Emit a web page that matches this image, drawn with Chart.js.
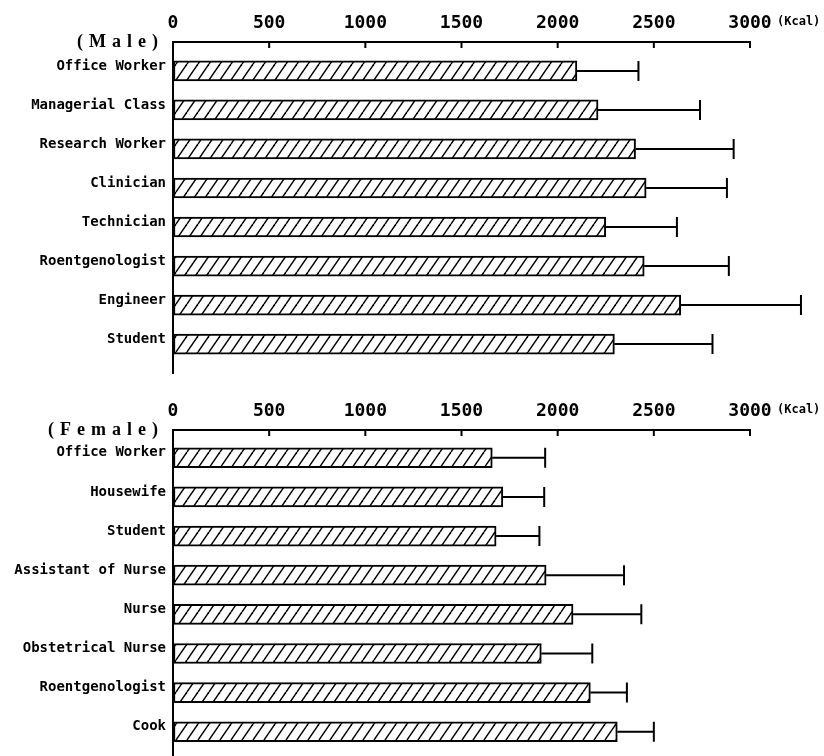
<!DOCTYPE html>
<html>
<head>
<meta charset="utf-8">
<script src="https://cdn.jsdelivr.net/npm/chart.js@4"></script>
<style>
  html, body { margin: 0; padding: 0; background: #fff; overflow: hidden; }
  .box { position: absolute; left: 0; width: 824px; }
</style>
</head>
<body>
<div class="box" style="top:0;height:380px"><canvas id="male"></canvas></div>
<div class="box" style="top:388px;height:368px"><canvas id="female"></canvas></div>
<script>
// data (Kcal)
const xTicks = [0, 500, 1000, 1500, 2000, 2500, 3000];

const maleLabels = ['Office Worker', 'Managerial Class', 'Research Worker', 'Clinician',
  'Technician', 'Roentgenologist', 'Engineer', 'Student'];
const maleMeans = [2100, 2210, 2405, 2460, 2250, 2450, 2640, 2295];
const maleUpper = [2420, 2740, 2915, 2880, 2620, 2890, 3265, 2805];

const femaleLabels = ['Office Worker', 'Housewife', 'Student', 'Assistant of Nurse',
  'Nurse', 'Obstetrical Nurse', 'Roentgenologist', 'Cook'];
const femaleMeans = [1660, 1715, 1680, 1940, 2080, 1915, 2170, 2310];
const femaleUpper = [1935, 1930, 1905, 2345, 2435, 2180, 2360, 2500];

const mono = 'DejaVu Sans Mono';

// diagonal hatch fill
function hatch() {
  const c = document.createElement('canvas');
  c.width = 11; c.height = 16;
  const g = c.getContext('2d');
  g.fillStyle = '#fff';
  g.fillRect(0, 0, 11, 16);
  g.strokeStyle = '#000';
  g.lineWidth = 1.5;
  for (const dx of [-11, 0, 11]) {
    g.beginPath();
    g.moveTo(dx, 16);
    g.lineTo(dx + 11, 0);
    g.stroke();
  }
  return g.createPattern(c, 'repeat');
}

function makeChart(id, labels, means, upper, title, yMin, yMax, padBottom) {
  const extras = {
    id: 'extras',
    afterDatasetsDraw(chart) {
      const ctx = chart.ctx;
      const xs = chart.scales.x;
      const area = chart.chartArea;
      const meta = chart.getDatasetMeta(0);
      ctx.save();
      ctx.strokeStyle = '#000';
      ctx.lineWidth = 2;
      // error bars
      meta.data.forEach((bar, i) => {
        const xe = xs.getPixelForValue(upper[i]);
        const h = bar.height / 2;
        ctx.beginPath();
        ctx.moveTo(bar.x, bar.y);
        ctx.lineTo(xe, bar.y);
        ctx.moveTo(xe, bar.y - h);
        ctx.lineTo(xe, bar.y + h);
        ctx.stroke();
      });
      // inward ticks on the top axis
      xTicks.forEach(v => {
        const px = xs.getPixelForValue(v);
        ctx.beginPath();
        ctx.moveTo(px, area.top);
        ctx.lineTo(px, area.top + 6);
        ctx.stroke();
      });
      // unit
      ctx.fillStyle = '#000';
      ctx.font = 'bold 12px ' + mono;
      ctx.textAlign = 'left';
      ctx.textBaseline = 'middle';
      ctx.fillText('(Kcal)', xs.getPixelForValue(3000) + 27, area.top - 20);
      // group title
      ctx.font = 'bold 18px "Liberation Serif"';
      ctx.letterSpacing = '6px';
      ctx.textAlign = 'right';
      ctx.fillText(title, 164, area.top);
      ctx.restore();
    }
  };

  return new Chart(document.getElementById(id), {
    type: 'bar',
    data: {
      datasets: [{
        data: means.map((v, i) => ({ x: v, y: i })),
        backgroundColor: hatch(),
        borderColor: '#000',
        borderWidth: 2,
        borderSkipped: false,
        barThickness: 20
      }]
    },
    options: {
      indexAxis: 'y',
      responsive: true,
      maintainAspectRatio: false,
      animation: false,
      layout: { padding: { left: 0, right: 74, top: 0, bottom: padBottom } },
      plugins: { legend: { display: false }, tooltip: { enabled: false } },
      scales: {
        x: {
          type: 'linear',
          position: 'top',
          min: 0,
          max: 3000,
          afterFit: s => { s.height = 42; },
          afterBuildTicks: s => { s.ticks = xTicks.map(v => ({ value: v })); },
          grid: { drawOnChartArea: false, drawTicks: false },
          border: { color: '#000', width: 2 },
          ticks: {
            color: '#000',
            padding: 8,
            font: { family: mono, size: 18, weight: 'bold' },
            callback: v => String(v)
          }
        },
        y: {
          type: 'linear',
          reverse: true,
          offset: false,
          min: yMin,
          max: yMax,
          afterFit: s => { s.width = 173; s.paddingTop = 0; s.paddingBottom = 0; },
          afterBuildTicks: s => { s.ticks = labels.map((_, i) => ({ value: i })); },
          grid: { offset: false, drawOnChartArea: false, drawTicks: false },
          border: { color: '#000', width: 2 },
          ticks: {
            color: '#000',
            padding: 7,
            autoSkip: false,
            labelOffset: -5,
            font: { family: mono, size: 14, weight: 'bold' },
            callback: v => labels[v]
          }
        }
      }
    },
    plugins: [extras]
  });
}

makeChart('male', maleLabels, maleMeans, maleUpper, '(Male)', -0.74, 7.74, 7);
makeChart('female', femaleLabels, femaleMeans, femaleUpper, '(Female)', -0.71, 7.62, 0);
</script>
</body>
</html>
